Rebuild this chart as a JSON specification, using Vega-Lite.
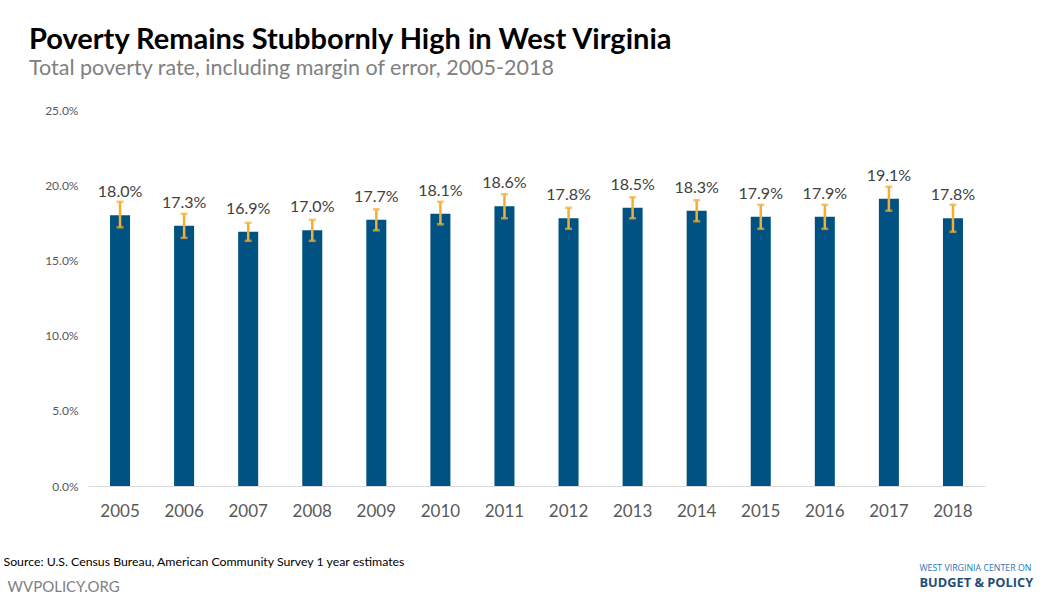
{
  "$schema": "https://vega.github.io/schema/vega-lite/v6.json",
  "autosize": {"type": "none"},
  "width": 897,
  "height": 376,
  "padding": {"left": 88, "top": 110, "right": 79, "bottom": 113},
  "background": "white",
  "title": {
    "text": "Poverty Remains Stubbornly High in West Virginia",
    "subtitle": "Total poverty rate, including margin of error, 2005-2018",
    "anchor": "start",
    "frame": "group",
    "dx": -59,
    "offset": 25,
    "font": "Lato",
    "fontSize": 29,
    "fontWeight": "bold",
    "color": "#000000",
    "subtitleFont": "Lato",
    "subtitleFontSize": 21.5,
    "subtitleColor": "#808080",
    "subtitlePadding": 3
  },
  "data": {
    "values": [
      {"year": "2005", "rate": 0.180, "lo": 0.172, "hi": 0.189},
      {"year": "2006", "rate": 0.173, "lo": 0.165, "hi": 0.181},
      {"year": "2007", "rate": 0.169, "lo": 0.163, "hi": 0.175},
      {"year": "2008", "rate": 0.170, "lo": 0.163, "hi": 0.177},
      {"year": "2009", "rate": 0.177, "lo": 0.170, "hi": 0.184},
      {"year": "2010", "rate": 0.181, "lo": 0.174, "hi": 0.189},
      {"year": "2011", "rate": 0.186, "lo": 0.178, "hi": 0.194},
      {"year": "2012", "rate": 0.178, "lo": 0.171, "hi": 0.185},
      {"year": "2013", "rate": 0.185, "lo": 0.178, "hi": 0.192},
      {"year": "2014", "rate": 0.183, "lo": 0.176, "hi": 0.190},
      {"year": "2015", "rate": 0.179, "lo": 0.171, "hi": 0.187},
      {"year": "2016", "rate": 0.179, "lo": 0.171, "hi": 0.187},
      {"year": "2017", "rate": 0.191, "lo": 0.183, "hi": 0.199},
      {"year": "2018", "rate": 0.178, "lo": 0.169, "hi": 0.187}
    ]
  },
  "encoding": {
    "x": {
      "field": "year",
      "type": "nominal",
      "sort": null,
      "axis": null,
      "scale": {"paddingInner": 0.6875, "paddingOuter": 0.34375}
    }
  },
  "layer": [
    {
      "mark": {"type": "bar", "color": "#005283"},
      "encoding": {
        "x": {
          "field": "year",
          "type": "nominal",
          "sort": null,
          "axis": {
            "orient": "bottom",
            "title": "Source: U.S. Census Bureau, American Community Survey 1 year estimates",
            "titleX": -85,
            "titleY": 79,
            "titleAlign": "left",
            "titleAnchor": null,
            "titleBaseline": "alphabetic",
            "titleFont": "Lato",
            "titleFontSize": 12.3,
            "titleFontWeight": "normal",
            "titleColor": "#000000",
            "labelAngle": 0,
            "labelFont": "Lato",
            "labelFontSize": 17,
            "labelColor": "#595959",
            "labelPadding": 17,
            "ticks": false,
            "domainColor": "#D9D9D9",
            "domainWidth": 1
          }
        },
        "y": {
          "field": "rate",
          "type": "quantitative",
          "scale": {"domain": [0, 0.25], "nice": false},
          "axis": {
            "values": [0, 0.05, 0.1, 0.15, 0.2, 0.25],
            "format": ".1%",
            "grid": false,
            "domain": false,
            "ticks": false,
            "labelFont": "Lato",
            "labelFontSize": 12,
            "labelColor": "#595959",
            "labelPadding": 10,
            "title": "WVPOLICY.ORG",
            "titleAngle": 0,
            "titleX": -81,
            "titleY": 481,
            "titleAlign": "left",
            "titleAnchor": null,
            "titleBaseline": "alphabetic",
            "titleFont": "Lato",
            "titleFontSize": 15,
            "titleFontWeight": "normal",
            "titleColor": "#7F7F7F"
          }
        }
      }
    },
    {
      "mark": {"type": "rule", "color": "#F5AF2E", "strokeWidth": 2.5},
      "encoding": {
        "x": {
          "field": "year",
          "type": "nominal",
          "sort": null,
          "axis": {
            "orient": "bottom",
            "labels": false,
            "ticks": false,
            "domain": false,
            "title": "BUDGET & POLICY",
            "titleX": 831,
            "titleY": 100.5,
            "titleAlign": "left",
            "titleAnchor": null,
            "titleBaseline": "alphabetic",
            "titleFont": "Open Sans",
            "titleFontSize": 12.8,
            "titleFontWeight": "bold",
            "titleColor": "#1F4E79"
          }
        },
        "y": {"field": "lo", "type": "quantitative"},
        "y2": {"field": "hi"}
      }
    },
    {
      "mark": {"type": "tick", "color": "#F5AF2E", "thickness": 2.5, "size": 7},
      "encoding": {
        "y": {"field": "lo", "type": "quantitative"}
      }
    },
    {
      "mark": {"type": "tick", "color": "#F5AF2E", "thickness": 2.5, "size": 7},
      "encoding": {
        "y": {"field": "hi", "type": "quantitative"}
      }
    },
    {
      "mark": {"type": "text", "font": "Lato", "fontSize": 16, "color": "#404040", "baseline": "alphabetic", "dy": -18},
      "encoding": {
        "x": {
          "field": "year",
          "type": "nominal",
          "sort": null,
          "axis": {
            "orient": "bottom",
            "labels": false,
            "ticks": false,
            "domain": false,
            "title": "WEST VIRGINIA CENTER ON",
            "titleX": 831,
            "titleY": 84.5,
            "titleAlign": "left",
            "titleAnchor": null,
            "titleBaseline": "alphabetic",
            "titleFont": "Open Sans",
            "titleFontSize": 8.8,
            "titleFontWeight": "normal",
            "titleColor": "#2E75B6"
          }
        },
        "y": {"field": "rate", "type": "quantitative"},
        "text": {"field": "rate", "type": "quantitative", "format": ".1%"}
      }
    }
  ],
  "resolve": {"axis": {"x": "independent"}},
  "config": {
    "view": {"stroke": null},
    "font": "Lato"
  }
}
